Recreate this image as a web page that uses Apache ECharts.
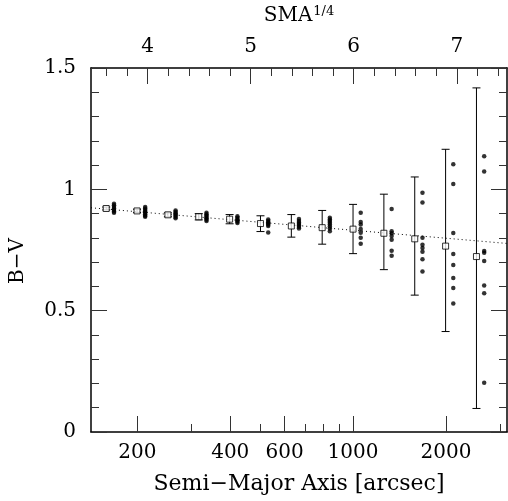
<!DOCTYPE html>
<html>
<head>
<meta charset="utf-8">
<script src="https://cdn.jsdelivr.net/npm/echarts@6/dist/echarts.min.js"></script>
<style>
html,body{margin:0;padding:0;background:#fff;}
#chart{width:508px;height:501px;}
</style>
</head>
<body>
<div id="chart"></div>
<script>
// ---- data ----
const binSMA = [158.5, 199.5, 251.2, 316.2, 398.1, 501.2, 631.0, 794.3, 1000, 1258.9, 1584.9, 1995.3, 2511.9];
const meanBV = [0.921, 0.911, 0.895, 0.887, 0.877, 0.859, 0.849, 0.842, 0.836, 0.819, 0.796, 0.766, 0.723];
const errLow = [0.915, 0.904, 0.887, 0.874, 0.858, 0.826, 0.803, 0.774, 0.735, 0.669, 0.564, 0.414, 0.097];
const errHigh = [0.927, 0.918, 0.903, 0.900, 0.896, 0.891, 0.896, 0.913, 0.938, 0.980, 1.051, 1.165, 1.418];

const dotSMA = [168, 212, 266, 335, 422, 531, 668, 841, 1059, 1334, 1679, 2113, 2661];
const dotBV = [
  [0.941, 0.934, 0.927, 0.921, 0.915, 0.909, 0.903],
  [0.927, 0.921, 0.915, 0.909, 0.903, 0.897, 0.891, 0.887],
  [0.913, 0.907, 0.901, 0.896, 0.891, 0.886, 0.881],
  [0.903, 0.897, 0.891, 0.886, 0.881, 0.875, 0.870],
  [0.889, 0.883, 0.877, 0.872, 0.866, 0.861],
  [0.876, 0.870, 0.864, 0.859, 0.854, 0.849, 0.822],
  [0.878, 0.870, 0.862, 0.857, 0.851, 0.845, 0.839],
  [0.883, 0.876, 0.870, 0.862, 0.855, 0.847, 0.839, 0.827],
  [0.904, 0.865, 0.855, 0.837, 0.821, 0.800, 0.776],
  [0.919, 0.827, 0.819, 0.808, 0.792, 0.747, 0.726],
  [0.986, 0.946, 0.800, 0.772, 0.758, 0.743, 0.712, 0.661],
  [1.103, 1.022, 0.820, 0.734, 0.688, 0.635, 0.593, 0.530],
  [1.136, 1.074, 0.746, 0.739, 0.705, 0.604, 0.572, 0.203]
];

const fitSMA = [141.5, 3155];
const fitBV = [0.924, 0.777];

const smaMin = 141.5, smaMax = 3155;
const bottomMajor = [200, 400, 600, 1000, 2000];
const bottomMinor = [300, 500, 700, 800, 900, 3000];
const topMin = 3.451, topMax = 7.487;
const topMajor = [4, 5, 6, 7];
const topMinor = [3.6, 3.8, 4.2, 4.4, 4.6, 4.8, 5.2, 5.4, 5.6, 5.8, 6.2, 6.4, 6.6, 6.8, 7.2, 7.4];

// ---- build ----
const L = Math.log10;
const FONT = 'DejaVu Serif';
const FS = 20;
const tickColor = '#333';

const meanData = binSMA.map((s, i) => [L(s), meanBV[i]]);
const errData = binSMA.map((s, i) => [L(s), errLow[i], errHigh[i]]);
const dotData = [];
dotSMA.forEach((s, i) => dotBV[i].forEach(v => dotData.push([L(s), v])));
const fitData = fitSMA.map((s, i) => [L(s), fitBV[i]]);

const chart = echarts.init(document.getElementById('chart'), null, {renderer: 'canvas'});

const baseX = {
  type: 'value', gridIndex: 0, splitLine: {show: false},
  axisLine: {onZero: false, lineStyle: {color: '#000', width: 1.5}}
};

chart.setOption({
  animation: false,
  backgroundColor: '#fff',
  grid: {left: 90, top: 61, right: 1, bottom: 69, containLabel: false},
  xAxis: [
    Object.assign({}, baseX, {
      position: 'bottom', min: L(smaMin), max: L(smaMax),
      axisTick: {inside: true, length: 16, lineStyle: {color: tickColor, width: 1}, customValues: bottomMajor.map(L)},
      axisLabel: {customValues: bottomMajor.map(L), margin: 11, color: '#000', fontFamily: FONT, fontSize: FS,
        formatter: v => String(Math.round(Math.pow(10, v)))},
      name: 'Semi\u2212Major Axis [arcsec]', nameLocation: 'middle', nameGap: 41,
      nameTextStyle: {color: '#000', fontFamily: FONT, fontSize: 22}
    }),
    Object.assign({}, baseX, {
      position: 'bottom', min: L(smaMin), max: L(smaMax),
      axisLine: {show: false, onZero: false},
      axisTick: {inside: true, length: 8, lineStyle: {color: tickColor, width: 1}, customValues: bottomMinor.map(L)},
      axisLabel: {show: false}
    }),
    Object.assign({}, baseX, {
      position: 'top', min: topMin, max: topMax,
      axisTick: {inside: true, length: 16, lineStyle: {color: tickColor, width: 1}, customValues: topMajor},
      axisLabel: {customValues: topMajor, margin: 11, color: '#000', fontFamily: FONT, fontSize: FS},
      name: '{a|SMA}{b|1/4}', nameLocation: 'middle', nameGap: 42,
      nameTextStyle: {color: '#000', fontFamily: FONT, fontSize: FS,
        rich: {
          a: {fontFamily: FONT, fontSize: FS, color: '#000'},
          b: {fontFamily: FONT, fontSize: 13, color: '#000', verticalAlign: 'top', padding: [0, 0, 8, 1]}
        }}
    }),
    Object.assign({}, baseX, {
      position: 'top', min: topMin, max: topMax,
      axisLine: {show: false, onZero: false},
      axisTick: {inside: true, length: 8, lineStyle: {color: tickColor, width: 1}, customValues: topMinor},
      axisLabel: {show: false}
    })
  ],
  yAxis: [
    {
      type: 'value', position: 'left', min: 0, max: 1.5, interval: 0.5,
      splitLine: {show: false},
      axisLine: {show: true, onZero: false, lineStyle: {color: '#000', width: 1.5}},
      axisTick: {inside: true, length: 16, lineStyle: {color: tickColor, width: 1}},
      minorTick: {show: true, splitNumber: 5, length: 8, lineStyle: {color: tickColor, width: 1}},
      axisLabel: {margin: 15, color: '#000', fontFamily: FONT, fontSize: FS},
      name: 'B\u2212V', nameLocation: 'middle', nameGap: 63, nameRotate: 90,
      nameTextStyle: {color: '#000', fontFamily: FONT, fontSize: FS, padding: [0, 22, 0, 0]}
    },
    {
      type: 'value', position: 'right', min: 0, max: 1.5, interval: 0.5,
      splitLine: {show: false},
      axisLine: {show: true, onZero: false, lineStyle: {color: '#000', width: 1.5}},
      axisTick: {inside: true, length: 16, lineStyle: {color: tickColor, width: 1}},
      minorTick: {show: true, splitNumber: 5, length: 8, lineStyle: {color: tickColor, width: 1}},
      axisLabel: {show: false}
    }
  ],
  series: [
    {
      type: 'line', xAxisIndex: 0, yAxisIndex: 0, data: fitData, symbol: 'none',
      lineStyle: {color: '#000', width: 1, type: [1, 3]}, z: 1, silent: true
    },
    {
      type: 'custom', xAxisIndex: 0, yAxisIndex: 0, data: errData, z: 2,
      renderItem: function (params, api) {
        const x = api.value(0);
        const lo = api.coord([x, api.value(1)]);
        const hi = api.coord([x, api.value(2)]);
        const w = 4;
        const st = {stroke: '#000', lineWidth: 1};
        return {
          type: 'group',
          children: [
            {type: 'line', shape: {x1: lo[0], y1: lo[1], x2: hi[0], y2: hi[1]}, style: st},
            {type: 'line', shape: {x1: lo[0] - w, y1: lo[1], x2: lo[0] + w, y2: lo[1]}, style: st},
            {type: 'line', shape: {x1: hi[0] - w, y1: hi[1], x2: hi[0] + w, y2: hi[1]}, style: st}
          ]
        };
      }
    },
    {
      type: 'scatter', xAxisIndex: 0, yAxisIndex: 0, data: meanData, symbol: 'rect', symbolSize: 6, z: 3,
      itemStyle: {color: '#fff', borderColor: '#000', borderWidth: 1}
    },
    {
      type: 'scatter', xAxisIndex: 0, yAxisIndex: 0, data: dotData, symbol: 'circle', symbolSize: 4.5, z: 3,
      itemStyle: {color: '#000'}
    }
  ]
});
</script>
</body>
</html>
